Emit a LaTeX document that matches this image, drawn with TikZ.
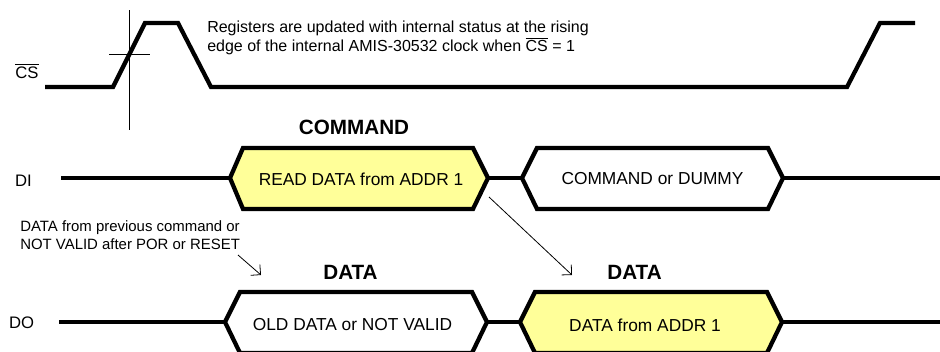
\documentclass[tikz,border=0pt]{standalone}
\usepackage{fontspec}
\setmainfont{Liberation Sans}
\usetikzlibrary{arrows.meta}
\definecolor{busyellow}{RGB}{255,255,153}

\begin{document}
\begin{tikzpicture}[x=0.75pt,y=-0.75pt,
    wave/.style={line width=3.2pt},
    thinline/.style={line width=0.6pt},
    pointer/.style={line width=0.6pt,-{Straight Barb[length=5.3pt,width=10.6pt]}},
    buslabel/.style={font=\fontsize{13}{15}\selectfont},
    heading/.style={font=\bfseries\fontsize{15.5}{18}\selectfont},
    siglabel/.style={anchor=base,font=\fontsize{12.5}{15}\selectfont}]
  \useasboundingbox (0,0) rectangle (940,351);

  \node[siglabel] (cs) at (27,78) {$\overline{\mbox{CS}}$};
  \node[siglabel] (di) at (23.5,186) {DI};
  \node[siglabel] (do) at (21.5,328) {DO};

  \draw[wave] (45,87) -- (113,87) -- (145,23) -- (178,23) -- (211,87) -- (847,87) -- (880,23) -- (915,23);
  \draw[thinline] (129,10) -- (129,130);
  \draw[thinline] (109,54) -- (150,54);

  \node[anchor=base west,align=left,inner sep=0,font=\fontsize{12}{14.25}\selectfont] (regnote) at (207,51)
    {Registers are updated with internal status at the rising\\edge of the internal AMIS-30532 clock when $\overline{\mbox{CS}}$ = 1};

  \coordinate (di-in) at (61,178);
  \coordinate (di-out) at (945,178);
  \coordinate (do-in) at (59,322);
  \coordinate (do-out) at (945,322);

  \draw[wave,fill=busyellow] (230,178) coordinate (rd-l) -- (243,148) -- (473,148) -- (488,178) coordinate (rd-r) -- (473,209) -- (243,209) -- cycle;
  \draw[wave,fill=white] (522,178) coordinate (cd-l) -- (537,148) -- (768,148) -- (783,178) coordinate (cd-r) -- (768,209) -- (537,209) -- cycle;
  \draw[wave,fill=white] (225,322) coordinate (od-l) -- (240,292) -- (472,292) -- (487,322) coordinate (od-r) -- (472,353) -- (240,353) -- cycle;
  \draw[wave,fill=busyellow] (520,322) coordinate (nd-l) -- (535,292) -- (767,292) -- (782,322) coordinate (nd-r) -- (767,353) -- (535,353) -- cycle;

  \draw[wave] (di-in) -- (rd-l);
  \draw[wave] (rd-r) -- (cd-l);
  \draw[wave] (cd-r) -- (di-out);
  \draw[wave] (do-in) -- (od-l);
  \draw[wave] (od-r) -- (nd-l);
  \draw[wave] (nd-r) -- (do-out);

  \node[buslabel] (rd) at (361,179) {READ DATA from ADDR 1};
  \node[buslabel] (cd) at (652.5,179) {COMMAND or DUMMY};
  \node[buslabel] (od) at (352.5,324.5) {OLD DATA or NOT VALID};
  \node[buslabel] (nd) at (645,325) {DATA from ADDR 1};

  \node[heading] (cmdhead) at (354,127) {COMMAND};
  \node[heading] (oldhead) at (350.5,272) {DATA};
  \node[heading] (newhead) at (634.5,272) {DATA};

  \node[anchor=base west,align=left,inner sep=0,font=\fontsize{11.2}{13.5}\selectfont] (oldnote) at (20,249)
    {DATA from previous command or\\NOT VALID after POR or RESET};

  \coordinate (oldtail) at (238,255);
  \coordinate (oldtip) at (261,275);
  \coordinate (rdtail) at (489,197);
  \coordinate (newtip) at (572,275);
  \draw[pointer] (oldtail) -- (oldtip);
  \draw[pointer] (rdtail) -- (newtip);
\end{tikzpicture}
\end{document}
